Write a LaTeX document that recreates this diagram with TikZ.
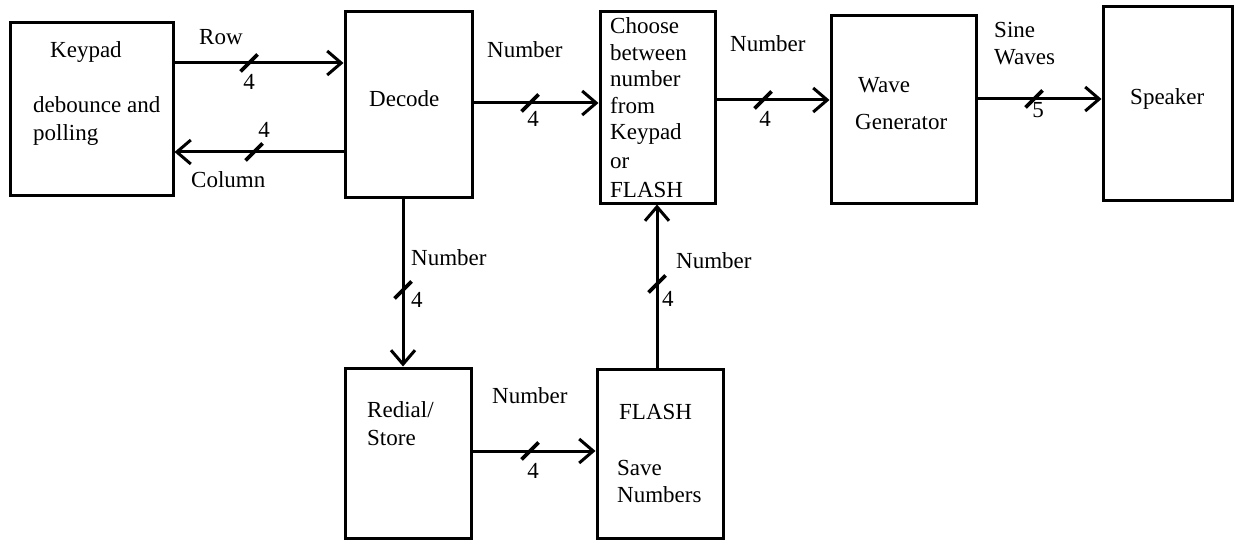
\documentclass[tikz,border=0pt]{standalone}
\usepackage{fontspec}
\setmainfont{Liberation Serif}
\usetikzlibrary{arrows.meta,calc}
\begin{document}
\begin{tikzpicture}[x=1pt,y=-1pt,
  box/.style={draw, line width=3pt, rectangle, inner sep=0pt},
  conn/.style={line width=3pt, -{Straight Barb[length=14pt,width=24pt]}},
  busslash/.style={line width=3.8pt},
  txt/.style={inner sep=0pt, anchor=base west, font=\fontsize{23}{27}\selectfont},
  ctxt/.style={inner sep=0pt, anchor=base, font=\fontsize{23}{27}\selectfont}]
\useasboundingbox (0,0) rectangle (1238,540);
% boxes
\node[box, minimum width=163pt, minimum height=172pt] (keypad) at (91.5,109) {};
\node[box, minimum width=127pt, minimum height=185pt] (decode) at (408.5,104.5) {};
\node[box, minimum width=115pt, minimum height=191pt] (choose) at (657.5,107.5) {};
\node[box, minimum width=145pt, minimum height=187pt] (wave) at (903.5,109.5) {};
\node[box, minimum width=129pt, minimum height=193pt] (speaker) at (1167.5,103.5) {};
\node[box, minimum width=126pt, minimum height=170pt] (redial) at (408,453) {};
\node[box, minimum width=126pt, minimum height=169pt] (flash) at (660,453.5) {};
% box texts
\node[txt] (tk1) at (50,58) {Keypad};
\node[txt] (tk2) at (33,113) {debounce and};
\node[txt] (tk3) at (33,141) {polling};
\node[txt] (td) at (369,107) {Decode};
\node[txt] (tc1) at (610,34) {Choose};
\node[txt] (tc2) at (610,61) {between};
\node[txt] (tc3) at (610,87) {number};
\node[txt] (tc4) at (610,114) {from};
\node[txt] (tc5) at (610,140) {Keypad};
\node[txt] (tc6) at (610,168) {or};
\node[txt] (tc7) at (610,197) {FLASH};
\node[txt] (tw1) at (858,93) {Wave};
\node[txt] (tw2) at (855,130) {Generator};
\node[txt] (ts) at (1130,105) {Speaker};
\node[txt] (tr1) at (367,417) {Redial/};
\node[txt] (tr2) at (367,445) {Store};
\node[txt] (tf1) at (619,419) {FLASH};
\node[txt] (tf2) at (617,475) {Save};
\node[txt] (tf3) at (617,502) {Numbers};
% connector levels
\coordinate (yrow) at (0,63);
\coordinate (ycol) at (0,152);
\coordinate (ydc) at (0,103);
\coordinate (ycw) at (0,100);
\coordinate (yws) at (0,99);
\coordinate (yrf) at (0,451);
\coordinate (xdr) at (403,0);
\coordinate (xfc) at (657,0);
% connectors
\draw[conn] (keypad.east |- yrow) -- (decode.west |- yrow);
\draw[conn] (decode.west |- ycol) -- (keypad.east |- ycol);
\draw[conn] (decode.east |- ydc) -- (choose.west |- ydc);
\draw[conn] (choose.east |- ycw) -- (wave.west |- ycw);
\draw[conn] (wave.east |- yws) -- (speaker.west |- yws);
\draw[conn] (decode.south -| xdr) -- (redial.north -| xdr);
\draw[conn] (redial.east |- yrf) -- (flash.west |- yrf);
\draw[conn] (flash.north -| xfc) -- (choose.south -| xfc);
% bus slashes
\foreach \n/\px/\py in {s1/249/63, s2/254/152, s3/530/103, s4/763/100, s5/1034/99, s6/403/290, s7/530/451, s8/657/284}{
  \coordinate (\n) at (\px,\py);
  \draw[busslash] ($(\n)+(-8.5,8.5)$) -- ($(\n)+(8.5,-8.5)$);
}
% labels
\node[txt] (lrow) at (199,45) {Row};
\node[ctxt] (l4a) at (249,90) {4};
\node[ctxt] (l4b) at (264,138) {4};
\node[txt] (lcol) at (191,187) {Column};
\node[txt] (ln1) at (487,58) {Number};
\node[ctxt] (l4c) at (533,127) {4};
\node[txt] (ln2) at (730,52) {Number};
\node[ctxt] (l4d) at (765,127) {4};
\node[txt] (lsw1) at (994,38) {Sine};
\node[txt] (lsw2) at (994,65) {Waves};
\node[ctxt] (l5) at (1038,118) {5};
\node[txt] (ln3) at (411,265) {Number};
\node[txt] (l4e) at (411,307) {4};
\node[txt] (ln4) at (492,403) {Number};
\node[ctxt] (l4f) at (533,478) {4};
\node[txt] (ln5) at (676,268) {Number};
\node[txt] (l4g) at (662,306) {4};
\end{tikzpicture}
\end{document}
